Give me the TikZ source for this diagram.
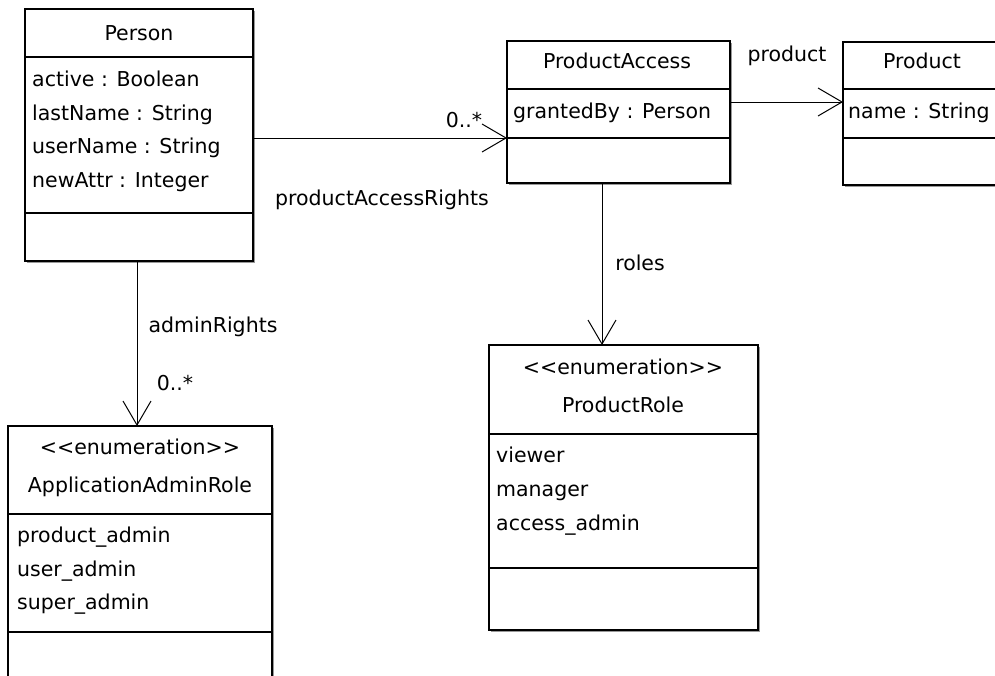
\documentclass[tikz,border=0pt]{standalone}
\usepackage{fontspec}
\setmainfont{DejaVu Sans}
\usetikzlibrary{arrows.meta,shadows}

\tikzset{
  umlbox/.style={draw, line width=1.3pt, fill=white, inner sep=0pt, outer sep=0pt,
    anchor=north west,
    drop shadow={shadow xshift=2pt, shadow yshift=-2pt, fill=black!40, opacity=1}},
  compart/.style={line width=1.1pt},
  txt/.style={font=\fontsize{20.5}{24}\selectfont, inner sep=0pt,
    text height=17pt, text depth=2pt},
  attr/.style={txt, anchor=west},
  assoc/.style={line width=1pt, -{Straight Barb[length=24pt, width=28pt, line width=1pt]}}
}

\begin{document}
\begin{tikzpicture}[x=1pt, y=-1pt]
\clip (0,0) rectangle (995,675);
\fill[white] (0,0) rectangle (995,675);

% class boxes
\node[umlbox, minimum width=228pt, minimum height=252pt] (person) at (25,9) {};
\node[umlbox, minimum width=223pt, minimum height=142pt] (pa) at (507,41) {};
\node[umlbox, minimum width=170pt, minimum height=143pt] (product) at (843,42) {};
\node[umlbox, minimum width=269pt, minimum height=285pt] (prole) at (489,345) {};
\node[umlbox, minimum width=264pt, minimum height=280pt] (aar) at (8,426) {};

% compartment separators
\draw[compart] (person.west |- 0,57) -- (person.east |- 0,57);
\draw[compart] (person.west |- 0,213) -- (person.east |- 0,213);
\draw[compart] (pa.west |- 0,89) -- (pa.east |- 0,89);
\draw[compart] (pa.west |- 0,138) -- (pa.east |- 0,138);
\draw[compart] (product.west |- 0,89) -- (product.east |- 0,89);
\draw[compart] (product.west |- 0,138) -- (product.east |- 0,138);
\draw[compart] (prole.west |- 0,434) -- (prole.east |- 0,434);
\draw[compart] (prole.west |- 0,568) -- (prole.east |- 0,568);
\draw[compart] (aar.west |- 0,514) -- (aar.east |- 0,514);
\draw[compart] (aar.west |- 0,632) -- (aar.east |- 0,632);

% Person
\node[txt] (personname) at (139,33) {Person};
\node[attr] (p1) at (32,79) {active : Boolean};
\node[attr] (p2) at (32,113) {lastName : String};
\node[attr] (p3) at (32,146) {userName : String};
\node[attr] (p4) at (32,180) {newAttr : Integer};

% ProductAccess
\node[txt] (paname) at (617,61) {ProductAccess};
\node[attr] (pa1) at (513,111) {grantedBy : Person};

% Product
\node[txt] (prodname) at (922,61) {Product};
\node[attr] (prod1) at (848,111) {name : String};

% ProductRole
\node[txt] (prstereo) at (623,367) {<{}<enumeration>{}>};
\node[txt] (prname) at (623,405) {ProductRole};
\node[attr] (pr1) at (496,455) {viewer};
\node[attr] (pr2) at (496,489) {manager};
\node[attr] (pr3) at (496,523) {access\_admin};

% ApplicationAdminRole
\node[txt] (aarstereo) at (140,447) {<{}<enumeration>{}>};
\node[txt] (aarname) at (140,485) {ApplicationAdminRole};
\node[attr] (a1) at (17,535) {product\_admin};
\node[attr] (a2) at (17,569) {user\_admin};
\node[attr] (a3) at (17,602) {super\_admin};

% associations
\draw[assoc] (person.east |- 0,138) -- (pa.west |- 0,138);
\draw[assoc] (pa.east |- 0,102) -- (product.west |- 0,102);
\draw[assoc] (pa.south -| 602,0) -- (prole.north -| 602,0);
\draw[assoc] (person.south -| 137,0) -- (aar.north -| 137,0);

% association labels
\node[txt] (l1) at (464,120) {0..*};
\node[txt] (l2) at (382,198) {productAccessRights};
\node[txt] (l3) at (787,54) {product};
\node[txt] (l4) at (640,263) {roles};
\node[txt] (l5) at (213,325) {adminRights};
\node[txt] (l6) at (175,383) {0..*};
\end{tikzpicture}
\end{document}
